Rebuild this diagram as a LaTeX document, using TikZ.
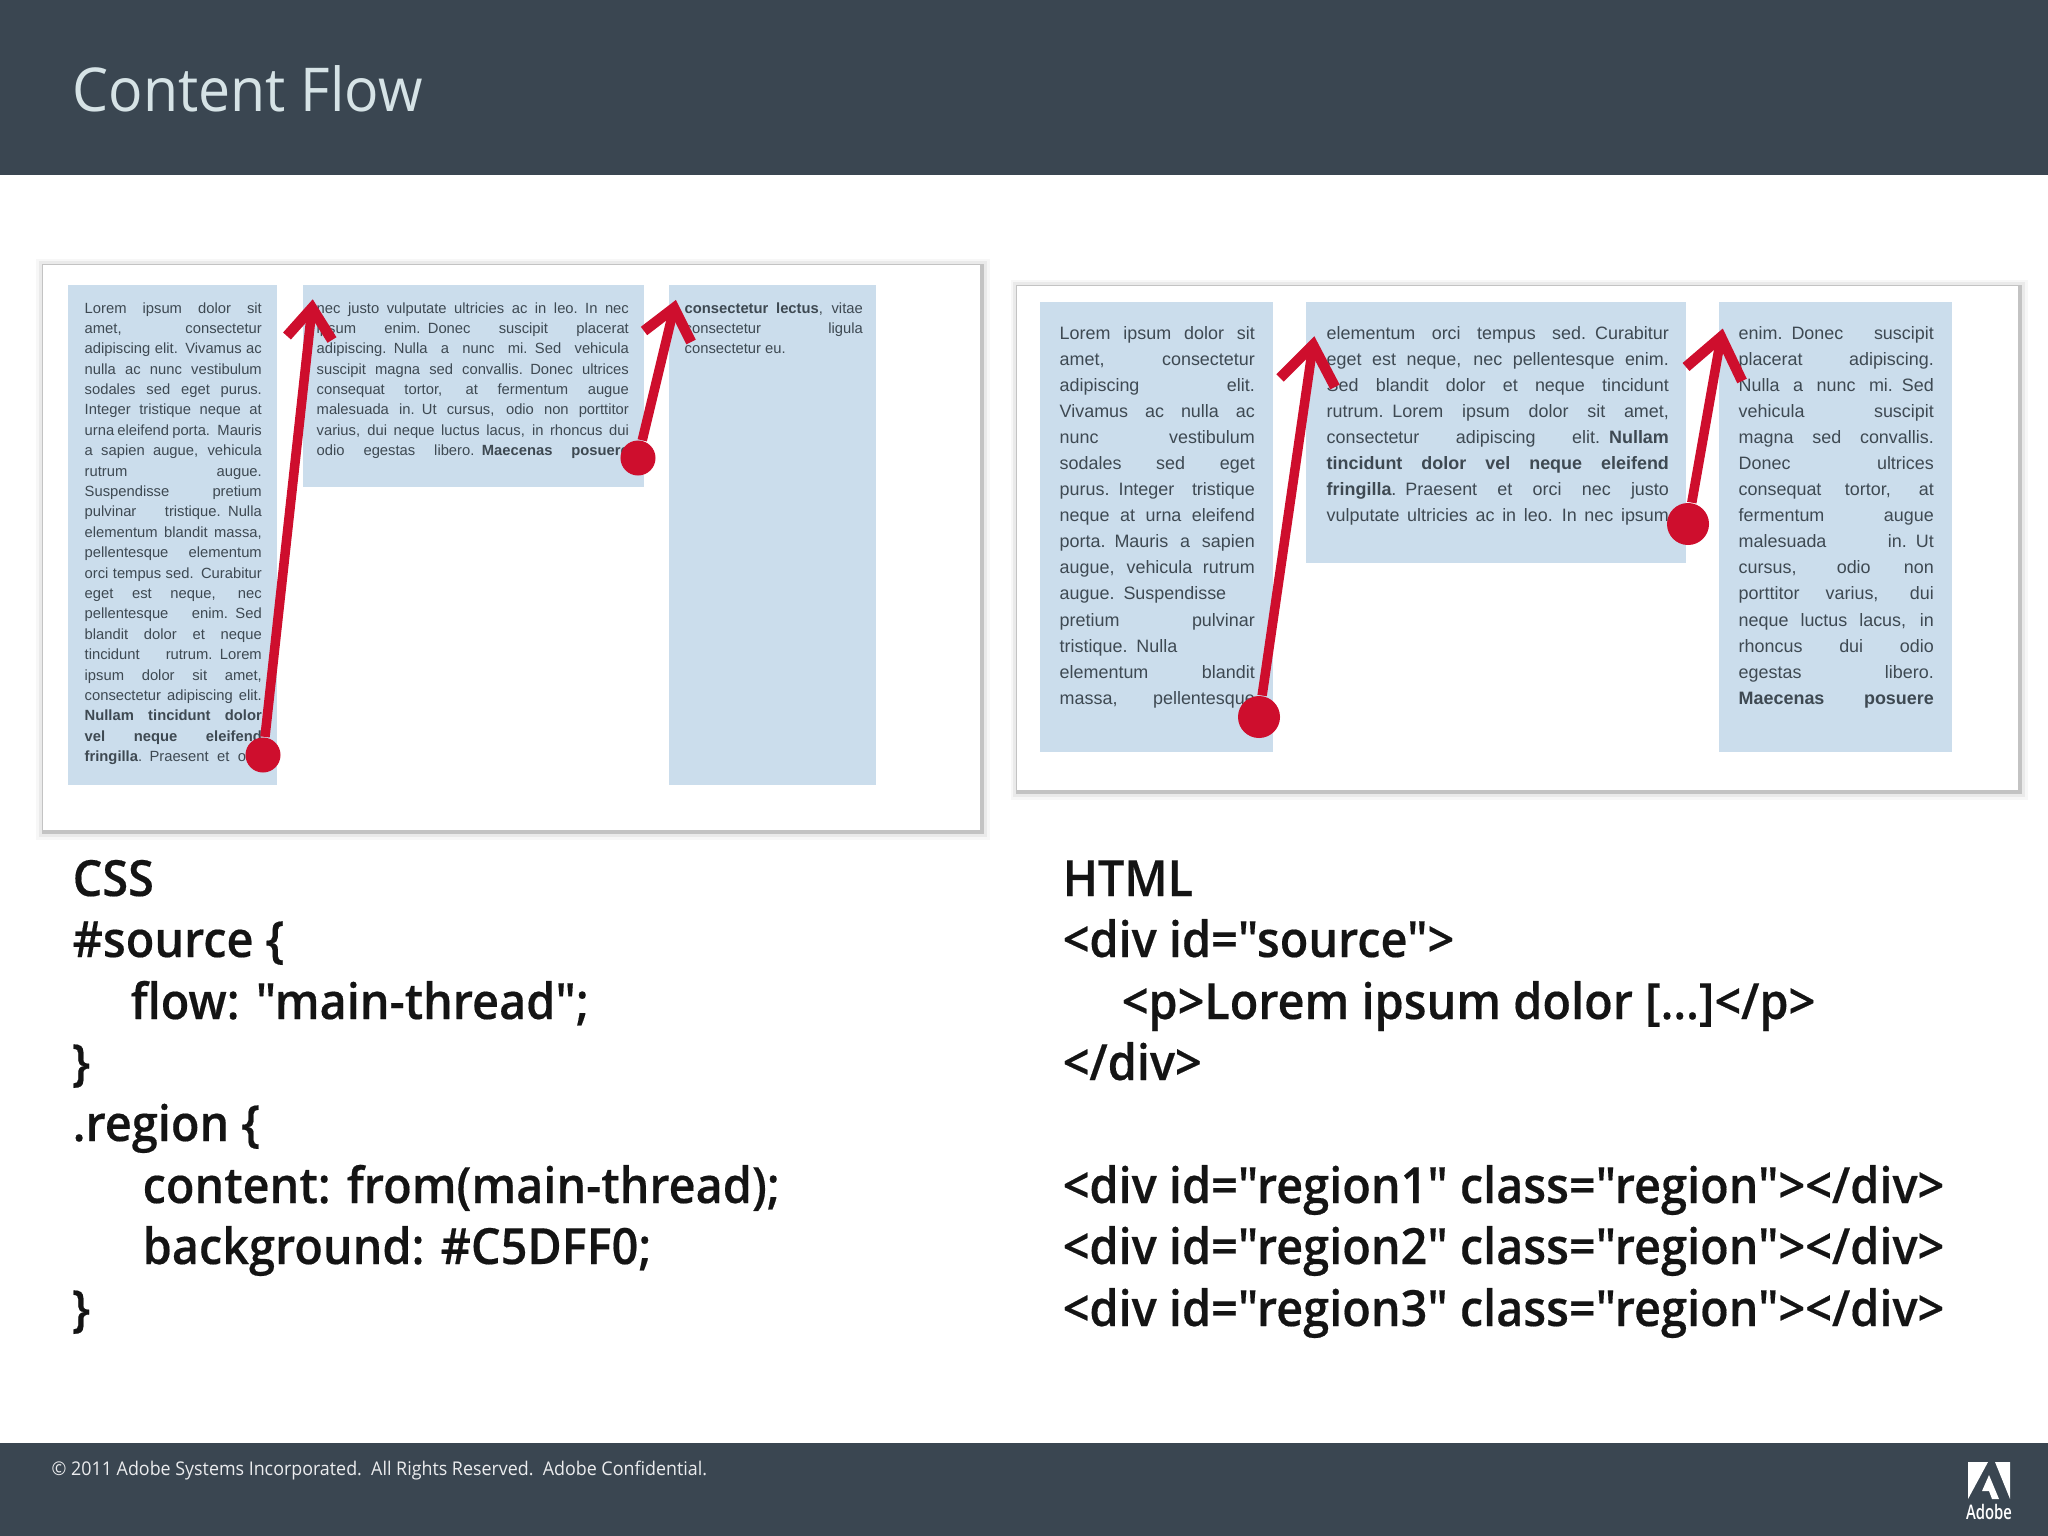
\documentclass[tikz,border=0pt]{standalone}
\usepackage{fontspec}
\setmainfont{Liberation Sans}
\newfontfamily\slidefont[FakeStretch=0.938,FakeBold=0.35]{Open Sans Semibold}
\newfontfamily\titlefont[FakeStretch=0.945]{Open Sans}
\newfontfamily\logofont[FakeStretch=0.74]{Open Sans Semibold}
\definecolor{barcolor}{HTML}{3A4651}
\definecolor{regioncolor}{HTML}{CBDDEC}
\definecolor{flowcolor}{HTML}{CE0E2D}
\definecolor{textgray}{HTML}{3E4952}
\definecolor{titlecolor}{HTML}{D6E3E6}
\newcommand{\regline}[1]{\unskip\hbox to\hsize{\spaceskip=.278em plus 1fil minus .12em\relax #1}\par}
\tikzset{
  card/.style={fill=white,
    preaction={draw=black,opacity=0.03,line width=0.16cm,transform canvas={xshift=0.015cm,yshift=-0.015cm}},
    preaction={draw=black,opacity=0.05,line width=0.11cm,transform canvas={xshift=0.015cm,yshift=-0.015cm}},
    preaction={draw=black,opacity=0.17,line width=0.05cm,transform canvas={xshift=0.012cm,yshift=-0.012cm}}},
  region/.style={fill=regioncolor},
  smalltext/.style={anchor=base west,inner sep=0,text=textgray,font=\fontsize{4.2}{5.8}\selectfont},
  largetext/.style={anchor=base west,inner sep=0,text=textgray,font=\fontsize{5.1}{7.42}\selectfont},
  codeline/.style={anchor=base west,inner sep=0,text=black!92,font=\slidefont\fontsize{14.2}{17}\selectfont},
  flowdot/.style={circle,fill=flowcolor,inner sep=0},
  flowline/.style={draw=flowcolor,line width=0.095cm},
  flowhead/.style={draw=flowcolor,line width=0.105cm,miter limit=4},
}
\begin{document}
\begin{tikzpicture}[x=0.01cm,y=-0.01cm]
\useasboundingbox (0,0) rectangle (2048,1536);
\fill[barcolor] (0,0) rectangle (2048,175);
\fill[barcolor] (0,1443) rectangle (2048,1536);
\node[anchor=base west,inner sep=0,text=titlecolor,font=\titlefont\fontsize{17.2}{20}\selectfont] (title) at (72,111) {Content Flow};
\node[anchor=base west,inner sep=0,text=white!90!barcolor,font=\titlefont\fontsize{5.375}{7}\selectfont] (footer) at (51,1475) {© 2011 Adobe Systems Incorporated.\ \ All Rights Reserved.\ \ Adobe Confidential.};

\path[card] (43,265) rectangle (980,830);
\fill[region] (68,285) rectangle (277,785);
\fill[region] (303,285) rectangle (644,487);
\fill[region] (669,285) rectangle (876,785);
\path[card] (1017,286) rectangle (2018,790);
\fill[region] (1040,302) rectangle (1273,752);
\fill[region] (1306,302) rectangle (1686,563);
\fill[region] (1719,302) rectangle (1952,752);

\node[smalltext,text width=1.77cm] (text1) at (84,313) {
\regline{Lorem ipsum dolor sit}
\regline{amet, consectetur}
\regline{adipiscing elit. Vivamus ac}
\regline{nulla ac nunc vestibulum}
\regline{sodales sed eget purus.}
\regline{Integer tristique neque at}
\regline{urna eleifend porta. Mauris}
\regline{a sapien augue, vehicula}
\regline{rutrum augue.}
\regline{Suspendisse pretium}
\regline{pulvinar tristique. Nulla}
\regline{elementum blandit massa,}
\regline{pellentesque elementum}
\regline{orci tempus sed. Curabitur}
\regline{eget est neque, nec}
\regline{pellentesque enim. Sed}
\regline{blandit dolor et neque}
\regline{tincidunt rutrum. Lorem}
\regline{ipsum dolor sit amet,}
\regline{consectetur adipiscing elit.}
\regline{\textbf{Nullam tincidunt dolor}}
\regline{\textbf{vel neque eleifend}}
\regline{\textbf{fringilla}. Praesent et orci}};
\node[smalltext,text width=3.12cm] (text2) at (316,313) {
\regline{nec justo vulputate ultricies ac in leo. In nec}
\regline{ipsum enim. Donec suscipit placerat}
\regline{adipiscing. Nulla a nunc mi. Sed vehicula}
\regline{suscipit magna sed convallis. Donec ultrices}
\regline{consequat tortor, at fermentum augue}
\regline{malesuada in. Ut cursus, odio non porttitor}
\regline{varius, dui neque luctus lacus, in rhoncus dui}
\regline{odio egestas libero. \textbf{Maecenas posuere}}};
\node[smalltext,text width=1.78cm] (text3) at (684,313) {
\regline{\textbf{consectetur lectus}, vitae}
\regline{consectetur ligula}
\regline{consectetur eu.\hfill}};

\node[largetext,text width=1.95cm] (text4) at (1059,339) {
\regline{Lorem ipsum dolor sit}
\regline{amet, consectetur}
\regline{adipiscing elit.}
\regline{Vivamus ac nulla ac}
\regline{nunc vestibulum}
\regline{sodales sed eget}
\regline{purus. Integer tristique}
\regline{neque at urna eleifend}
\regline{porta. Mauris a sapien}
\regline{augue, vehicula rutrum}
\regline{augue. Suspendisse}
\regline{pretium pulvinar}
\regline{tristique. Nulla}
\regline{elementum blandit}
\regline{massa, pellentesque}};
\node[largetext,text width=3.42cm] (text5) at (1326,339) {
\regline{elementum orci tempus sed. Curabitur}
\regline{eget est neque, nec pellentesque enim.}
\regline{Sed blandit dolor et neque tincidunt}
\regline{rutrum. Lorem ipsum dolor sit amet,}
\regline{consectetur adipiscing elit. \textbf{Nullam}}
\regline{\textbf{tincidunt dolor vel neque eleifend}}
\regline{\textbf{fringilla}. Praesent et orci nec justo}
\regline{vulputate ultricies ac in leo. In nec ipsum}};
\node[largetext,text width=1.95cm] (text6) at (1738,339) {
\regline{enim. Donec suscipit}
\regline{placerat adipiscing.}
\regline{Nulla a nunc mi. Sed}
\regline{vehicula suscipit}
\regline{magna sed convallis.}
\regline{Donec ultrices}
\regline{consequat tortor, at}
\regline{fermentum augue}
\regline{malesuada in. Ut}
\regline{cursus, odio non}
\regline{porttitor varius, dui}
\regline{neque luctus lacus, in}
\regline{rhoncus dui odio}
\regline{egestas libero.}
\regline{\textbf{Maecenas posuere}}};

\node[flowdot,minimum size=0.35cm] (dot1) at (263,755) {};
\node[flowdot,minimum size=0.35cm] (dot2) at (638,458) {};
\node[flowdot,minimum size=0.42cm] (dot3) at (1259,717) {};
\node[flowdot,minimum size=0.42cm] (dot4) at (1688,524) {};
\coordinate (tip1) at (312,308);
\coordinate (tip2) at (674,308);
\coordinate (tip3) at (1313,345);
\coordinate (tip4) at (1721,337);
\coordinate (tip1l) at (287,336);
\coordinate (tip1r) at (332,340);
\coordinate (tip2l) at (644,331);
\coordinate (tip2r) at (691,342);
\coordinate (tip3l) at (1280,378);
\coordinate (tip3r) at (1335,387);
\coordinate (tip4l) at (1686,367);
\coordinate (tip4r) at (1742,381);
\path[flowline]
(dot1) edge (tip1)
(dot2) edge (tip2)
(dot3) edge (tip3)
(dot4) edge (tip4)
;
\draw[flowhead] (tip1l) -- (tip1) -- (tip1r);
\draw[flowhead] (tip2l) -- (tip2) -- (tip2r);
\draw[flowhead] (tip3l) -- (tip3) -- (tip3r);
\draw[flowhead] (tip4l) -- (tip4) -- (tip4r);

\node[codeline] (css0) at (72,896) {CSS};
\node[codeline] (css1) at (72,957) {\#source \{};
\node[codeline] (css2) at (130,1019) {flow: "main-thread";};
\node[codeline] (css3) at (72,1080) {\}};
\node[codeline] (css4) at (72,1141) {.region \{};
\node[codeline] (css5) at (142,1203) {content: from(main-thread);};
\node[codeline] (css6) at (142,1264) {background: \#C5DFF0;};
\node[codeline] (css7) at (72,1326) {\}};
\node[codeline] (html0) at (1062,896) {HTML};
\node[codeline] (html1) at (1062,957) {<div id="source">};
\node[codeline] (html2) at (1121,1019) {<p>Lorem ipsum dolor […]</p>};
\node[codeline] (html3) at (1062,1080) {</div>};
\node[codeline] (html4) at (1062,1203) {<div id="region1" class="region"></div>};
\node[codeline] (html5) at (1062,1264) {<div id="region2" class="region"></div>};
\node[codeline] (html6) at (1062,1326) {<div id="region3" class="region"></div>};

\fill[white] (1968,1462) -- (1988,1462) -- (1968,1499) -- cycle;
\fill[white] (1995,1462) -- (2010,1462) -- (2010,1499) -- cycle;
\fill[white] (1989,1475) -- (1999,1499) -- (1992,1499) -- (1989,1491) -- (1982,1491) -- cycle;
\node[anchor=base,inner sep=0,text=white,font=\logofont\fontsize{5.7}{6}\selectfont] (adobe) at (1989,1519) {Adobe};
\end{tikzpicture}
\end{document}
